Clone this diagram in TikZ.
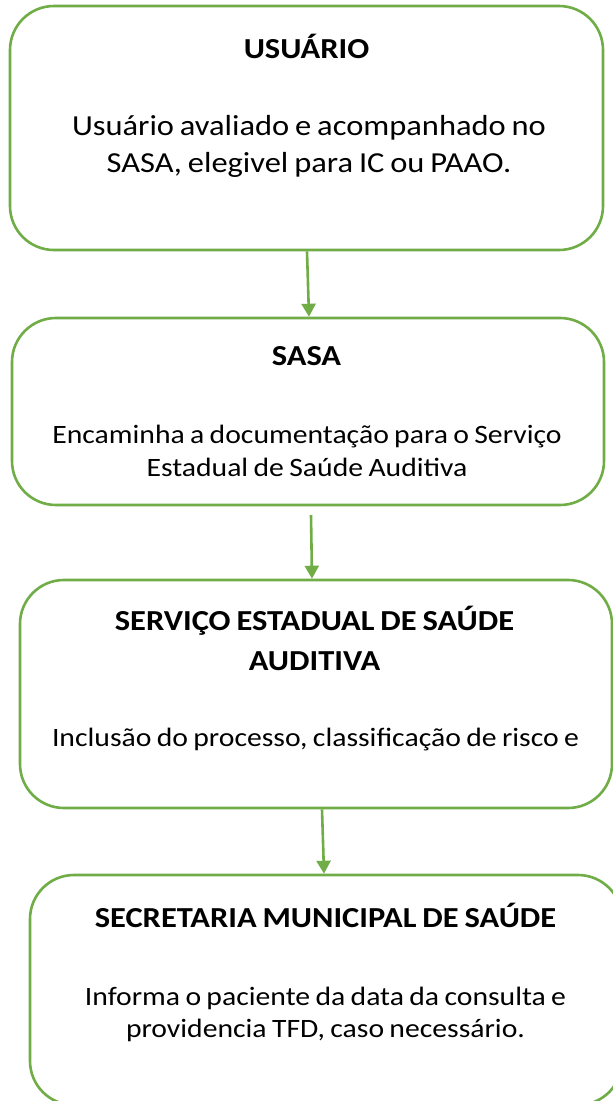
\documentclass[tikz,border=0pt]{standalone}
\usepackage{fontspec}
\setmainfont{Carlito}[FakeStretch=1.12, WordSpace=0.8]
\usetikzlibrary{arrows.meta}
\definecolor{boxgreen}{HTML}{70AD47}
\tikzset{
  stagebox/.style={draw=boxgreen, line width=2.6pt, rounded corners=44pt, inner sep=0pt, fill=none},
  arr/.style={draw=boxgreen, line width=2.6pt, -{Triangle[width=14pt,length=13pt]}},
  ttl/.style={anchor=base, inner sep=0pt, font=\fontsize{29}{38}\selectfont\bfseries, align=center},
  bodyA/.style={anchor=base, inner sep=0pt, font=\fontsize{29}{37}\selectfont, align=center},
  bodyB/.style={anchor=base, inner sep=0pt, font=\fontsize{26.5}{33}\selectfont, align=center}
}
\begin{document}
\begin{tikzpicture}[x=1pt,y=-1pt]
\useasboundingbox (0,0) rectangle (613,1101);
\clip (0,0) rectangle (613,1101);
\fill[white] (0,0) rectangle (613,1101);
% boxes
\node[stagebox, minimum width=593pt, minimum height=244pt] (b1) at (306.5,128) {};
\node[stagebox, minimum width=592pt, minimum height=187pt] (b2) at (308,411.5) {};
\node[stagebox, minimum width=592pt, minimum height=228pt] (b3) at (316,694) {};
\node[stagebox, minimum width=592pt, minimum height=230pt] (b4) at (326,990) {};
% texts
\node[ttl] (t1) at (306.5,58) {USUÁRIO};
\node[bodyA] (d1a) at (309,135) {Usuário avaliado e acompanhado no};
\node[bodyA] (d1b) at (309,172) {SASA, elegivel para IC ou PAAO.};
\node[ttl] (t2) at (306.5,365) {SASA};
\node[bodyB] (d2a) at (307,443) {Encaminha a documentação para o Serviço};
\node[bodyB] (d2b) at (307,476) {Estadual de Saúde Auditiva};
\node[ttl] (t3a) at (314.5,630) {SERVIÇO ESTADUAL DE SAÚDE};
\node[ttl] (t3b) at (314.5,670) {AUDITIVA};
\node[bodyB] (d3) at (315.5,746) {Inclusão do processo, classificação de risco e};
\node[ttl] (t4) at (325.5,927) {SECRETARIA MUNICIPAL DE SAÚDE};
\node[bodyB] (d4a) at (325.5,1005) {Informa o paciente da data da consulta e};
\node[bodyB] (d4b) at (325.5,1037) {providencia TFD, caso necessário.};
% connectors
\coordinate (x1) at (307,0);
\coordinate (x1e) at (309,0);
\coordinate (a2s) at (311,515);
\coordinate (x2e) at (312,0);
\coordinate (x3) at (322,0);
\coordinate (x3e) at (324,0);
\draw[arr] (b1.south -| x1) -- (b2.north -| x1e);
\draw[arr] (a2s) -- (b3.north -| x2e);
\draw[arr] (b3.south -| x3) -- (b4.north -| x3e);
\end{tikzpicture}
\end{document}
